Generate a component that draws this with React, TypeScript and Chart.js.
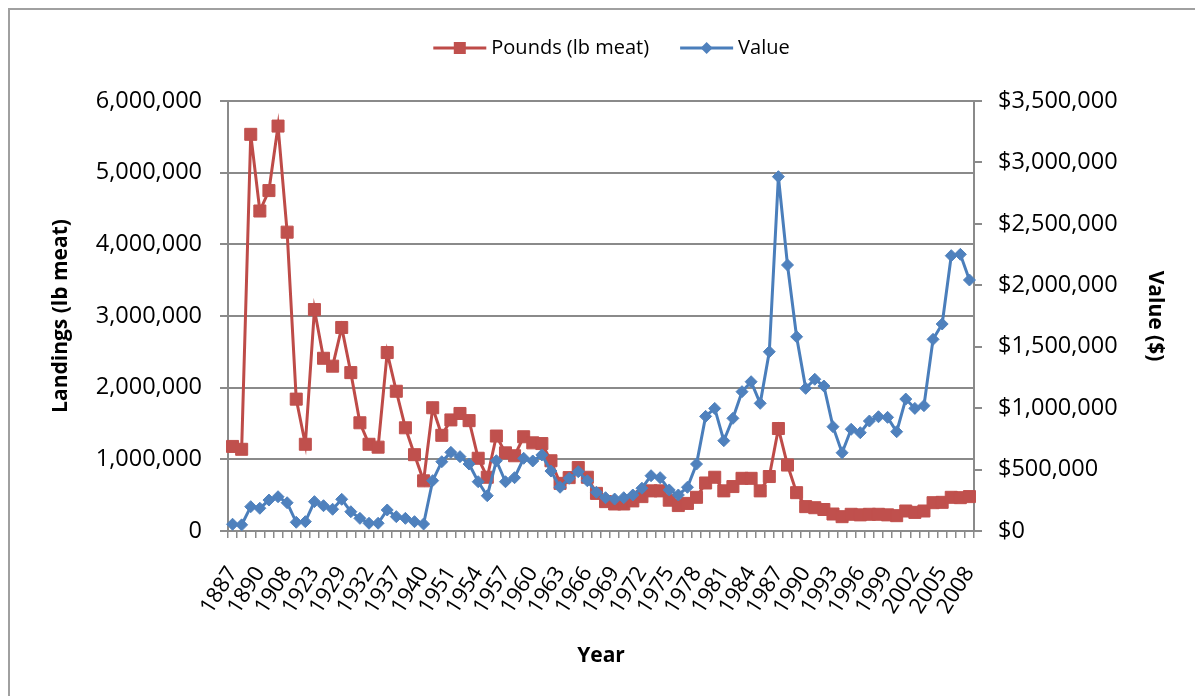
import React, { useEffect, useRef } from 'react';
import { Chart, registerables } from 'chart.js';

Chart.register(...registerables);

const years: string[] = [
  '1887', '1888', '1889', '1890', '1897', '1902', '1908', '1910', '1919', '1923',
  '1926', '1928', '1929', '1930', '1931', '1932', '1934', '1936', '1937', '1938',
  '1939', '1940', '1945', '1950', '1951', '1952', '1953', '1954', '1955', '1956',
  '1957', '1958', '1959', '1960', '1961', '1962', '1963', '1964', '1965', '1966',
  '1967', '1968', '1969', '1970', '1971', '1972', '1973', '1974', '1975', '1976',
  '1977', '1978', '1979', '1980', '1981', '1982', '1983', '1984', '1985', '1986',
  '1987', '1988', '1989', '1990', '1991', '1992', '1993', '1994', '1995', '1996',
  '1997', '1998', '1999', '2000', '2001', '2002', '2003', '2004', '2005', '2006',
  '2007', '2008',
];

const pounds: number[] = [
  1180000, 1140000, 5535000, 4465000, 4750000, 5650000, 4170000, 1840000, 1210000, 3090000,
  2410000, 2300000, 2840000, 2210000, 1510000, 1210000, 1170000, 2490000, 1950000, 1440000,
  1065000, 700000, 1720000, 1335000, 1550000, 1640000, 1540000, 1015000, 750000, 1325000,
  1090000, 1050000, 1315000, 1230000, 1220000, 980000, 665000, 745000, 885000, 750000,
  525000, 410000, 377000, 377000, 420000, 480000, 560000, 560000, 430000, 355000,
  385000, 470000, 670000, 750000, 560000, 620000, 735000, 735000, 560000, 760000,
  1430000, 920000, 535000, 340000, 325000, 300000, 237000, 200000, 233000, 225000,
  233000, 233000, 225000, 214000, 279000, 260000, 279000, 395000, 400000, 470000,
  465000, 480000,
];

const dollars: number[] = [
  55000, 50000, 198000, 185000, 252000, 279000, 230000, 71000, 76000, 239000,
  206000, 177000, 258000, 157000, 103000, 63000, 63000, 171000, 117000, 103000,
  76000, 57000, 410000, 564000, 640000, 605000, 545000, 401000, 287000, 572000,
  401000, 434000, 592000, 570000, 619000, 488000, 356000, 429000, 483000, 409000,
  315000, 271000, 260000, 271000, 293000, 348000, 450000, 434000, 334000, 293000,
  356000, 545000, 933000, 998000, 735000, 917000, 1134000, 1215000, 1039000, 1459000,
  2884000, 2165000, 1581000, 1161000, 1235000, 1180000, 849000, 637000, 828000, 800000,
  895000, 930000, 925000, 808000, 1074000, 998000, 1020000, 1560000, 1685000, 2241000,
  2252000, 2043000,
];

const FONT = '"Open Sans", sans-serif';
const GRID = '#8a8a8a';
const RED_LINE = '#BE4B48';
const RED_FILL = '#C0504D';
const BLUE_LINE = '#4A7EBB';
const BLUE_FILL = '#4F81BD';

const fmt = (n: number) => Math.round(n).toLocaleString('en-US');

function drawMarker(ctx: CanvasRenderingContext2D, style: string, x: number, y: number, color: string) {
  ctx.fillStyle = color;
  ctx.beginPath();
  if (style === 'rect') {
    ctx.rect(x - 6, y - 6, 12, 12);
  } else {
    ctx.moveTo(x - 6, y);
    ctx.lineTo(x, y - 6);
    ctx.lineTo(x + 6, y);
    ctx.lineTo(x, y + 6);
    ctx.closePath();
  }
  ctx.fill();
}

const excelLegend = {
  id: 'excelLegend',
  afterDraw(chart: any) {
    const ctx: CanvasRenderingContext2D = chart.ctx;
    ctx.save();
    ctx.font = `20px ${FONT}`;
    ctx.textBaseline = 'middle';
    ctx.textAlign = 'left';
    const ds = chart.data.datasets;
    const lineLen = 53;
    const gapText = 5;
    const gapItem = 31;
    const widths = ds.map((d: any) => ctx.measureText(d.label).width);
    let total = 0;
    ds.forEach((_d: any, i: number) => {
      total += lineLen + gapText + widths[i] + (i < ds.length - 1 ? gapItem : 0);
    });
    let x = 611.5 - total / 2;
    const y = 48;
    ds.forEach((d: any, i: number) => {
      ctx.strokeStyle = d.borderColor;
      ctx.lineWidth = 3;
      ctx.beginPath();
      ctx.moveTo(x, y);
      ctx.lineTo(x + lineLen, y);
      ctx.stroke();
      drawMarker(ctx, d.pointStyle, x + lineLen / 2, y, d.pointBackgroundColor);
      ctx.fillStyle = '#000';
      ctx.fillText(d.label, x + lineLen + gapText, y);
      x += lineLen + gapText + widths[i] + gapItem;
    });
    ctx.restore();
  },
};

export default function App() {
  const ref = useRef<HTMLCanvasElement>(null);

  useEffect(() => {
    document.documentElement.style.overflow = 'hidden';
    document.body.style.overflow = 'hidden';
    Chart.defaults.color = '#000';
    Chart.defaults.font.family = FONT;
    const chart = new Chart(ref.current as HTMLCanvasElement, {
      type: 'line',
      data: {
        labels: years,
        datasets: [
          {
            label: 'Pounds (lb meat)',
            data: pounds,
            yAxisID: 'y',
            order: 1,
            borderColor: RED_LINE,
            backgroundColor: RED_FILL,
            pointBackgroundColor: RED_FILL,
            pointBorderColor: RED_FILL,
            pointStyle: 'rect',
            pointRadius: 8.5,
            pointBorderWidth: 1,
            borderWidth: 3,
            tension: 0,
          },
          {
            label: 'Value',
            data: dollars,
            yAxisID: 'y1',
            order: 0,
            borderColor: BLUE_LINE,
            backgroundColor: BLUE_FILL,
            pointBackgroundColor: BLUE_FILL,
            pointBorderColor: BLUE_FILL,
            pointStyle: 'rectRot',
            pointRadius: 6,
            pointBorderWidth: 1,
            borderWidth: 3,
            tension: 0,
          },
        ],
      },
      options: {
        responsive: false,
        maintainAspectRatio: false,
        animation: false,
        layout: { padding: { top: 101, left: 0, right: 0, bottom: 0 } },
        plugins: {
          legend: { display: false },
          tooltip: { enabled: false },
        },
        scales: {
          x: {
            type: 'category',
            offset: true,
            grid: {
              display: true,
              drawOnChartArea: false,
              drawTicks: true,
              tickLength: 7,
              color: GRID,
              lineWidth: 1.5,
              offset: true,
            },
            border: { display: true, color: GRID, width: 2 },
            ticks: {
              autoSkip: false,
              minRotation: 58,
              maxRotation: 58,
              padding: 24,
              color: '#000',
              font: { size: 22, family: FONT },
              callback: function (this: any, v: any, i: number) {
                return i % 3 === 0 ? this.getLabelForValue(v) : '';
              },
            },
            title: {
              display: true,
              text: 'Year',
              color: '#000',
              font: { size: 21, weight: 'bold', family: FONT },
              padding: { top: 0, bottom: 27 },
            },
            afterFit: (s: any) => {
              s.height = 165;
            },
          },
          y: {
            type: 'linear',
            position: 'left',
            min: 0,
            max: 6000000,
            grid: {
              color: GRID,
              lineWidth: 2,
              drawTicks: true,
              tickLength: 8,
            },
            border: { display: true, color: GRID, width: 2 },
            ticks: {
              stepSize: 1000000,
              padding: 18,
              color: '#000',
              font: { size: 23.5, family: FONT },
              callback: (v: any) => fmt(Number(v)),
            },
            title: {
              display: true,
              text: 'Landings (lb meat)',
              color: '#000',
              font: { size: 21, weight: 'bold', family: FONT },
              padding: { top: 48, bottom: 0 },
            },
            afterFit: (s: any) => {
              s.width = 228;
            },
          },
          y1: {
            type: 'linear',
            position: 'right',
            min: 0,
            max: 3500000,
            grid: {
              color: GRID,
              lineWidth: 2,
              drawOnChartArea: false,
              drawTicks: true,
              tickLength: 8,
            },
            border: { display: true, color: GRID, width: 2 },
            ticks: {
              stepSize: 500000,
              padding: 16,
              color: '#000',
              font: { size: 23.5, family: FONT },
              callback: (v: any) => '$' + fmt(Number(v)),
            },
            title: {
              display: true,
              text: 'Value ($)',
              color: '#000',
              font: { size: 21, weight: 'bold', family: FONT },
              padding: { top: 27, bottom: 0 },
            },
            afterFit: (s: any) => {
              s.width = 221;
            },
          },
        },
      },
      plugins: [excelLegend],
    });
    return () => chart.destroy();
  }, []);

  return (
    <div
      style={{
        position: 'fixed',
        left: 0,
        top: 0,
        width: 1195,
        height: 696,
        overflow: 'hidden',
        background: '#fff',
      }}
    >
      <div
        style={{
          position: 'absolute',
          left: 8,
          top: 8,
          width: 1300,
          height: 800,
          border: '2px solid #a0a0a0',
          boxSizing: 'border-box',
        }}
      />
      <canvas
        ref={ref}
        width={1195}
        height={696}
        style={{ position: 'absolute', left: 0, top: 0, width: 1195, height: 696 }}
      />
    </div>
  );
}
